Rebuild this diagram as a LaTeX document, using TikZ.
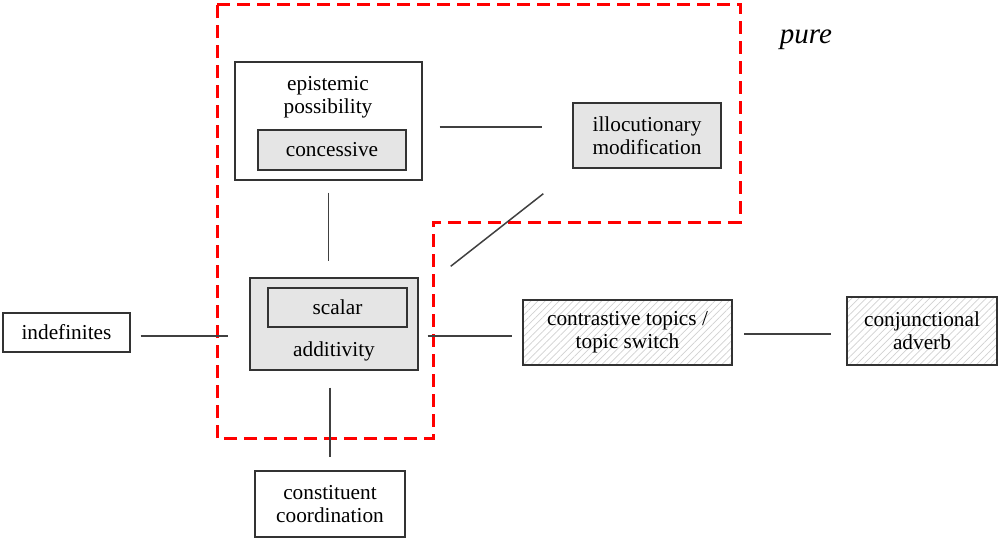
\documentclass[tikz,border=0pt]{standalone}
\usepackage{fontspec}
\setmainfont{Liberation Serif}
\usepackage{tikz}
\usetikzlibrary{calc,patterns.meta}

\begin{document}
\begin{tikzpicture}[x=1pt,y=-1pt,
    box/.style={draw=black!80, line width=1.4pt, inner sep=0pt},
    graybox/.style={box, fill=black!10},
    hatchbox/.style={box, pattern={Lines[angle=45,distance=5pt,line width=0.7pt]}, pattern color=black!18},
    txt/.style={font=\fontsize{21.3}{23}\selectfont, align=center, inner sep=0pt},
    link/.style={draw=black!75, line width=1.5pt},
    pureline/.style={draw=red, line width=3pt, dash pattern=on 13pt off 7pt}]
    \useasboundingbox (0,0) rectangle (1001,542);
            % the "pure" region
            \draw[pureline] (217,4) -- (740,4) -- (740,222) -- (433,222) -- (433,438) -- (217,438) -- cycle;
            \node[font=\fontsize{29}{32}\selectfont\itshape, inner sep=0pt] (pure) at (806,40) {pure};
            % boxes
            \node[box, minimum width=187pt, minimum height=118pt] (epi) at (328.5,121) {};
            \node[txt] (epitxt) at (328,97) {epistemic\\possibility};
            \node[graybox, txt, minimum width=148pt, minimum height=40pt] (conc) at (332,150) {concessive};
            \node[graybox, txt, minimum width=148pt, minimum height=65pt] (illoc) at (647,135.5) {illocutionary\\modification};
            \node[graybox, minimum width=168pt, minimum height=92pt] (add) at (334,324) {};
            \node[graybox, txt, minimum width=139pt, minimum height=39pt] (scalar) at (337.5,307.5) {scalar};
            \node[txt] (addtxt) at (334,351) {additivity};
            \node[box, txt, minimum width=127pt, minimum height=39pt] (indef) at (66.5,332.5) {indefinites};
            \node[hatchbox, txt, minimum width=209pt, minimum height=65pt] (contr) at (627.5,332.5) {contrastive topics /\\topic switch};
            \node[hatchbox, txt, minimum width=150pt, minimum height=68pt] (conj) at (922,331) {conjunctional\\adverb};
            \node[box, txt, minimum width=150pt, minimum height=66pt] (cons) at (330,504) {constituent\\coordination};
            % connectors
            \draw[link, shorten <=17pt, shorten >=30pt] ($(epi.east)+(0,6)$) -- ($(illoc.west)+(0,-8.5)$);
            \draw[link, shorten <=12pt, shorten >=16pt] (epi.south) -- (epi.south |- add.north);
            \draw[link] ($(add.north east)+(32,-11)$) -- ($(illoc.south west)+(-29,25)$);
            \draw[link, shorten <=10pt, shorten >=21pt] ($(indef.east)+(0,3.5)$) -- ($(indef.east -| add.west)+(0,3.5)$);
            \draw[link, shorten <=9pt, shorten >=11pt] ($(contr.west -| add.east)+(0,3.5)$) -- ($(contr.west)+(0,3.5)$);
            \draw[link, shorten <=12pt, shorten >=15pt] ($(contr.east)+(0,1.5)$) -- ($(conj.west)+(0,3)$);
            \draw[link, shorten <=17pt, shorten >=13pt] (cons.north |- add.south) -- (cons.north);
        \end{tikzpicture}
\end{document}
